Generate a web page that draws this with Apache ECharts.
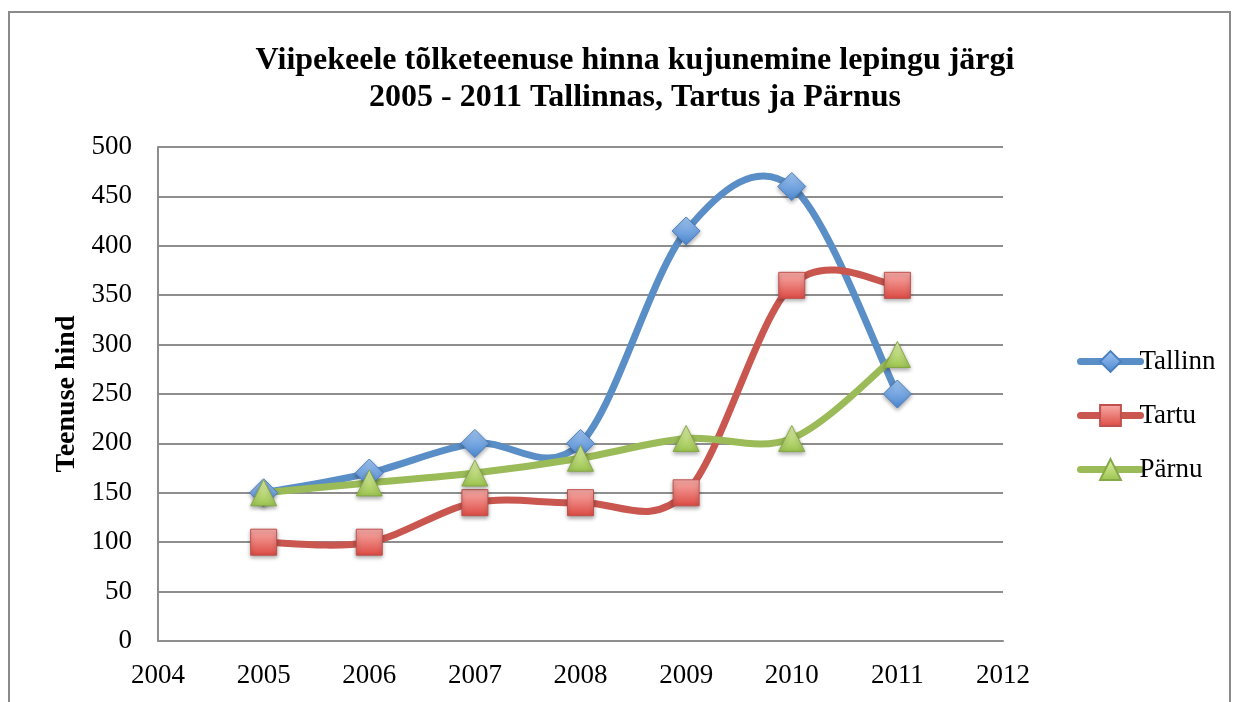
<!DOCTYPE html>
<html>
<head>
<meta charset="utf-8">
<script src="https://cdn.jsdelivr.net/npm/echarts@6/dist/echarts.min.js"></script>
<style>
  html, body { margin: 0; padding: 0; background: #fff; }
  #chart { width: 1243px; height: 702px; }
</style>
</head>
<body>
<div id="chart"></div>
<script>
// aastad ja hinnad
const years = [2005, 2006, 2007, 2008, 2009, 2010, 2011];
const tallinn = [150, 170, 200, 200, 415, 460, 250];
const tartu = [100, 100, 140, 140, 150, 360, 360];
const parnu = [150, 160, 170, 185, 205, 205, 290];
const seriesNames = ['Tallinn', 'Tartu', 'Pärnu'];
const lineColors = ['#5a8ec6', '#c9574f', '#9bbb59'];

const font = 'Liberation Serif';

const grad = (top, bottom) => new echarts.graphic.LinearGradient(0, 0, 0, 1, [
  { offset: 0, color: top },
  { offset: 1, color: bottom }
]);

// Excel-laadne silumine (Catmull-Rom -> bezier), üks lõik iga punkti kohta
const curveSeries = (name, values, color) => ({
  name: name + '-joon',
  type: 'custom',
  z: 2,
  silent: true,
  encode: { x: 0, y: 1 },
  data: years.map((y, i) => [y, values[i]]),
  renderItem: (params, api) => {
    const i = params.dataIndex;
    const n = years.length;
    if (i >= n - 1) return null;
    const pt = j => {
      const k = Math.max(0, Math.min(n - 1, j));
      return api.coord([years[k], values[k]]);
    };
    const p0 = pt(i - 1), p1 = pt(i), p2 = pt(i + 1), p3 = pt(i + 2);
    return {
      type: 'bezierCurve',
      shape: {
        x1: p1[0], y1: p1[1],
        x2: p2[0], y2: p2[1],
        cpx1: p1[0] + (p2[0] - p0[0]) / 6, cpy1: p1[1] + (p2[1] - p0[1]) / 6,
        cpx2: p2[0] - (p3[0] - p1[0]) / 6, cpy2: p2[1] - (p3[1] - p1[1]) / 6
      },
      style: { stroke: color, lineWidth: 7, fill: null, lineCap: 'round' }
    };
  }
});

const markerSeries = (name, values, symbol, size, top, bottom, border) => ({
  name: name,
  type: 'line',
  z: 3,
  data: years.map((y, i) => [y, values[i]]),
  symbol: symbol,
  symbolSize: size,
  showAllSymbol: true,
  lineStyle: { width: 0, opacity: 0 },
  itemStyle: {
    color: grad(top, bottom), borderColor: border, borderWidth: 1,
    shadowBlur: 4, shadowOffsetY: 2, shadowColor: 'rgba(0,0,0,0.35)'
  },
  emphasis: { disabled: true }
});

const chart = echarts.init(document.getElementById('chart'));
chart.setOption({
  animation: false,
  textStyle: { fontFamily: font },
  title: {
    text: 'Viipekeele tõlketeenuse hinna kujunemine lepingu järgi\n2005 - 2011 Tallinnas, Tartus ja Pärnus',
    left: 630,
    top: 37,
    textAlign: 'center',
    textStyle: { fontFamily: font, fontSize: 32, fontWeight: 'bold', color: '#000', lineHeight: 37 }
  },
  legend: {
    orient: 'vertical',
    left: 1072,
    top: 343,
    itemWidth: 60,
    itemHeight: 26,
    itemGap: 27,
    textStyle: { fontFamily: font, fontSize: 27, color: '#000', padding: [0, 0, 0, -6] },
    data: seriesNames.map((name, i) => ({
      name: name,
      lineStyle: { color: lineColors[i], width: 7, opacity: 1, cap: 'round' }
    }))
  },
  graphic: [{
    type: 'rect',
    shape: { x: 9, y: 12, width: 1221, height: 720 },
    style: { fill: 'none', stroke: '#8a8a8a', lineWidth: 2 },
    silent: true
  }],
  grid: { left: 158, right: 240, top: 147, bottom: 61 },
  xAxis: {
    type: 'value',
    min: 2004,
    max: 2012,
    interval: 1,
    axisLine: { lineStyle: { color: '#8e8e8e', width: 2 } },
    axisTick: { show: false },
    splitLine: { show: false },
    axisLabel: { color: '#000', fontSize: 27, fontFamily: font, margin: 21, formatter: v => String(v) }
  },
  yAxis: {
    type: 'value',
    min: 0,
    max: 500,
    interval: 50,
    name: 'Teenuse hind',
    nameLocation: 'middle',
    nameGap: 74,
    nameTextStyle: { color: '#000', fontSize: 28, fontWeight: 'bold', fontFamily: font },
    axisLine: { show: true, lineStyle: { color: '#8e8e8e', width: 2 } },
    axisTick: { show: false },
    splitLine: { lineStyle: { color: '#8e8e8e', width: 2 } },
    axisLabel: { color: '#000', fontSize: 27, fontFamily: font, margin: 26 }
  },
  series: [
    curveSeries('Tallinn', tallinn, lineColors[0]),
    curveSeries('Tartu', tartu, lineColors[1]),
    curveSeries('Pärnu', parnu, lineColors[2]),
    markerSeries('Tallinn', tallinn, 'diamond', 28, '#a3c7f2', '#4a86d0', '#4a7fc0'),
    markerSeries('Tartu', tartu, 'rect', 26, '#f9aeaa', '#dc4a43', '#c0504d'),
    markerSeries('Pärnu', parnu, 'triangle', 26, '#e2f4ad', '#9bc34e', '#86a846')
  ]
});
</script>
</body>
</html>
